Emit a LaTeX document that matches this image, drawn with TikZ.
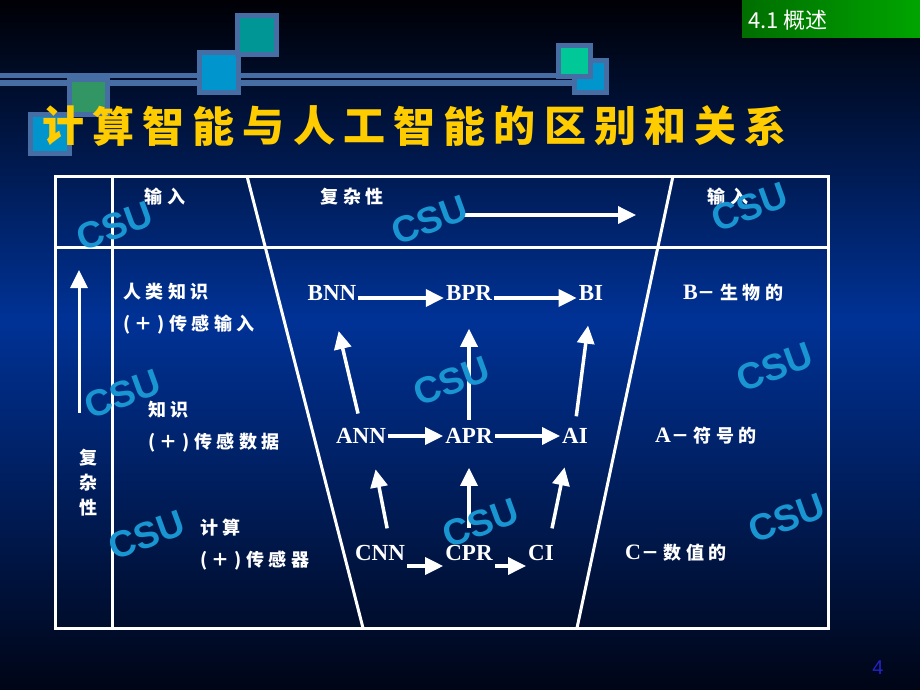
\documentclass[tikz,border=0pt]{standalone}
\usepackage{fontspec}
\setmainfont{Liberation Serif}
\newfontfamily\cjk{Noto Sans CJK SC}[LetterSpace=25]
\newfontfamily\cjkplain{Noto Sans CJK SC}
\newfontfamily\csufont{Liberation Sans}
\usetikzlibrary{arrows.meta}
\definecolor{bgblue}{RGB}{0,50,150}
\definecolor{csublue}{RGB}{25,150,210}
\definecolor{titleyellow}{RGB}{255,204,0}
\definecolor{barblue}{RGB}{70,110,165}
\definecolor{sqteal}{RGB}{0,150,150}
\definecolor{sqblue}{RGB}{0,150,205}
\definecolor{sqmint}{RGB}{0,200,150}
\definecolor{sqgreen}{RGB}{50,150,100}
\definecolor{pageblue}{RGB}{35,35,200}

\begin{document}
\begin{tikzpicture}[x=1pt, y=-1pt,
  every node/.style = {text=white, inner sep=2pt},
  lat/.style = {font=\bfseries\fontsize{23}{23}\selectfont},
  lbl/.style = {font=\cjk\bfseries\fontsize{18}{32}\selectfont, align=left},
  frame/.style = {draw=white, line width=3pt},
  arr/.style = {draw=white, line width=3.5pt, -{Triangle[length=18pt,width=17pt]}},
  deco/.style = {fill=#1, draw=barblue, line width=5pt},
  csu/.style = {font=\csufont\bfseries\fontsize{37}{37}\selectfont, text=csublue, rotate=20}]
  \shade[top color={rgb,255:red,0;green,0;blue,5}, bottom color=bgblue] (0,0) rectangle (920,320);
  \shade[top color=bgblue, bottom color={rgb,255:red,0;green,5;blue,22}] (0,320) rectangle (920,690);
  % top decoration
  \fill[barblue] (0,73) rectangle (605,78.5);
  \fill[barblue] (0,80.5) rectangle (605,86);
  \draw[deco=sqblue] (199.5,52.5) rectangle (238.5,92.5);
  \draw[deco=sqteal] (237.5,15.5) rectangle (276.5,54.5);
  \draw[deco=sqblue] (574.5,60.5) rectangle (606.5,92.5);
  \draw[deco=sqmint] (558.5,45.5) rectangle (590.5,76.5);
  \draw[deco=sqgreen] (69.5,79.5) rectangle (107.5,114.5);
  \draw[deco=sqblue] (30.5,114.5) rectangle (69.5,153.5);
  \shade[left color={rgb,255:red,0;green,110;blue,0}, right color={rgb,255:red,0;green,165;blue,0}]
    (742,0) rectangle (920,38);
  \node[anchor=west, font=\cjkplain\fontsize{22}{22}\selectfont] (sec) at (746,20) {4.1 概述};
  \foreach \ch [count=\i from 0] in {计,算,智,能,与,人,工,智,能,的,区,别,和,关,系}
    \node[font=\cjk\bfseries\fontsize{42}{42}\selectfont, text=titleyellow, inner sep=0]
      (t\i) at ({63+50.2*\i},126) {\ch};
  % table
  \draw[frame] (55,176) rectangle (828,628);
  \draw[frame] (55,247) -- (828,247);
  \draw[frame] (112,176) -- (112,628);
  \draw[frame] (247,176) -- (363,628);
  \draw[frame] (673,176) -- (577,628);
  \node[lbl] (in1) at (165,197) {输入};
  \node[lbl] (cplx) at (352,197) {复杂性};
  \node[lbl] (in2) at (728,197) {输入};
  \coordinate (hs) at (460,215);
  \coordinate (he) at (636,215);
  \draw[arr] (hs) -- (he);
  \node[lbl, align=center, font=\cjk\bfseries\fontsize{18}{25}\selectfont] (cx) at (88,483) {复\\杂\\性};
  \coordinate (upbase) at (79,413);
  \coordinate (uptop) at (79,270);
  \draw[arr, line width=3pt] (upbase) -- (uptop);
  \node[lbl, anchor=west] (hk) at (121,309) {人类知识\\(＋)传感输入};
  \node[lbl, anchor=west] (kn) at (146,427) {知识\\(＋)传感数据};
  \node[lbl, anchor=west] (cp) at (198,545) {计算\\(＋)传感器};
  \node[lat] (bnn) at (332,293) {BNN};
  \node[lat] (bpr) at (469,293) {BPR};
  \node[lat] (bi) at (591,293) {BI};
  \node[lat] (ann) at (361,436) {ANN};
  \node[lat] (apr) at (469,436) {APR};
  \node[lat] (ai) at (575,436) {AI};
  \node[lat] (cnn) at (380,553) {CNN};
  \node[lat] (cpr) at (469,553) {CPR};
  \node[lat] (ci) at (541,553) {CI};
  \draw[arr] ([yshift=-5pt]bnn.east) -- ([yshift=-5pt]bpr.west);
  \draw[arr] ([yshift=-5pt]bpr.east) -- ([yshift=-5pt]bi.west);
  \draw[arr] (ann) -- (apr);
  \draw[arr] (apr) -- (ai);
  \draw[arr] ([yshift=-13pt]cnn.east) -- ([yshift=-13pt]cpr.west);
  \draw[arr] ([yshift=-13pt]cpr.east) -- ([yshift=-13pt]ci.west);
  \draw[arr, shorten <=13pt, shorten >=29pt] (ann.north) -- (bnn.south);
  \draw[arr, shorten <=6pt, shorten >=26pt] (apr.north) -- (bpr.south);
  \draw[arr, shorten <=10pt, shorten >=23pt] (ai.north) -- (bi.south);
  \draw[arr, shorten <=15pt, shorten >=24pt] ([xshift=10pt]cnn.north) -- ([xshift=10pt]ann.south);
  \draw[arr, shorten <=15pt, shorten >=22pt] (cpr.north) -- (apr.south);
  \draw[arr, shorten <=15pt, shorten >=22pt] ([xshift=8pt]ci.north) -- ([xshift=-6pt]ai.south);
  \node[lbl, anchor=west] (bio) at (681,293) {{\rmfamily\fontsize{22}{22}\selectfont B}－生物的};
  \node[lbl, anchor=west] (sym) at (653,436) {{\rmfamily\fontsize{22}{22}\selectfont A}－符号的};
  \node[lbl, anchor=west] (num) at (623,553) {{\rmfamily\fontsize{22}{22}\selectfont C}－数值的};
  % watermarks
  \foreach \wx/\wy [count=\k] in {115/226, 430/220, 750/207, 123/394, 452/381, 775/367, 147/535, 481/523, 787/518}
    \node[csu] (w\k) at (\wx,\wy) {CSU};
  \node[font=\csufont\fontsize{20}{20}\selectfont, text=pageblue] (pg) at (878,668) {4};
\end{tikzpicture}
\end{document}
